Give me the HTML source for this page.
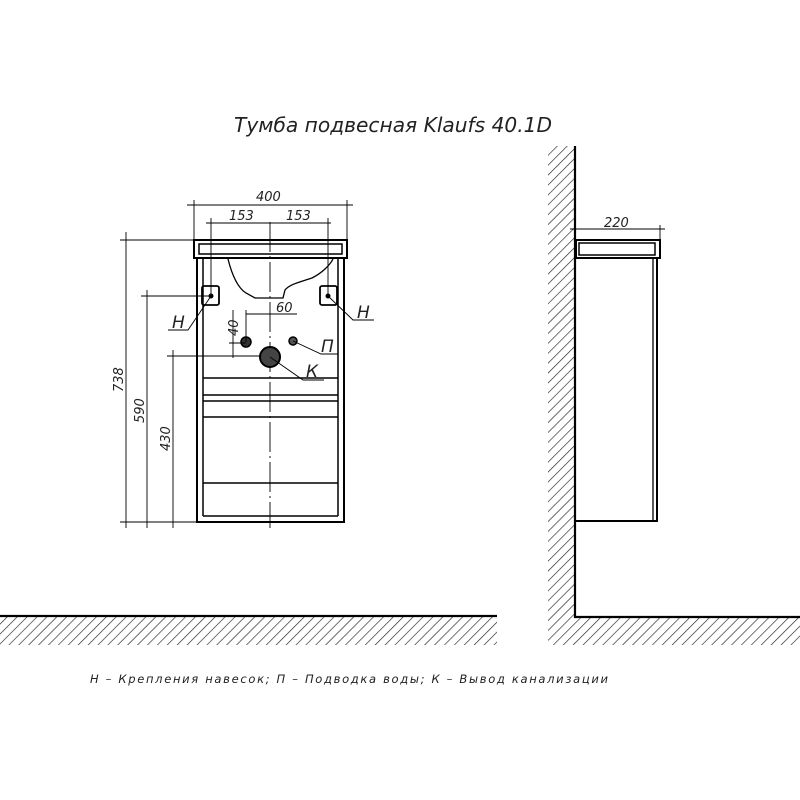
<!DOCTYPE html>
<html><head><meta charset="utf-8"><style>
html,body{margin:0;padding:0;background:#fff}
svg{display:block}
text{font-family:"DejaVu Sans","Liberation Sans",sans-serif;font-style:italic;fill:#222}
</style></head><body>
<svg width="800" height="800" viewBox="0 0 800 800" xmlns="http://www.w3.org/2000/svg">
<defs>
<pattern id="h" width="7" height="10" patternUnits="userSpaceOnUse" patternTransform="rotate(45)">
<line x1="0" y1="0" x2="0" y2="10" stroke="#222" stroke-width="1.3"/>
</pattern>
</defs>
<text x="234" y="132" font-size="20" textLength="318" lengthAdjust="spacingAndGlyphs">Тумба подвесная Klaufs 40.1D</text>

<rect x="0" y="617" width="497" height="28" fill="url(#h)"/>
<line x1="0" y1="616" x2="497" y2="616" stroke="#000" stroke-width="2.2"/>
<rect x="548" y="146" width="27" height="499" fill="url(#h)"/>
<rect x="575" y="617" width="225" height="28" fill="url(#h)"/>
<polyline points="575,146 575,617 800,617" fill="none" stroke="#000" stroke-width="2.2"/>

<g stroke="#000" fill="none">
<rect x="194" y="240" width="153" height="18" stroke-width="2"/>
<rect x="199" y="244" width="143" height="10" stroke-width="1.5"/>
<rect x="197" y="258" width="147" height="264" stroke-width="2"/>
<line x1="203" y1="258" x2="203" y2="516" stroke-width="1.5"/>
<line x1="338" y1="258" x2="338" y2="516" stroke-width="1.5"/>
<line x1="203" y1="516" x2="338" y2="516" stroke-width="1.5"/>
<line x1="203" y1="378" x2="338" y2="378" stroke-width="1.5"/>
<line x1="203" y1="395" x2="338" y2="395" stroke-width="1.5"/>
<line x1="203" y1="401" x2="338" y2="401" stroke-width="1.5"/>
<line x1="203" y1="417" x2="338" y2="417" stroke-width="1.5"/>
<line x1="203" y1="483" x2="338" y2="483" stroke-width="1.5"/>
<path d="M228,259 C232,275 238,288 246,293 L255,298 L283,298 L285,290 C290,284 300,282 312,278 C322,273 330,265 333,259" stroke-width="1.3"/>
<line x1="270" y1="222" x2="270" y2="528" stroke-width="0.9" stroke-dasharray="30,4,2,4"/>
<rect x="202" y="286" width="17" height="19" rx="2" stroke-width="1.8"/>
<rect x="320" y="286" width="17" height="19" rx="2" stroke-width="1.8"/>
</g>
<circle cx="211" cy="296" r="2.5" fill="#000"/>
<circle cx="328" cy="296" r="2.5" fill="#000"/>
<circle cx="246" cy="342" r="5" fill="#333" stroke="#000" stroke-width="1.5"/>
<circle cx="293" cy="341" r="4" fill="#555" stroke="#000" stroke-width="1.5"/>
<circle cx="270" cy="357" r="10" fill="#444" stroke="#000" stroke-width="2"/>

<g stroke="#000" stroke-width="0.9" fill="none">
<line x1="187" y1="205" x2="353" y2="205"/>
<line x1="194" y1="200" x2="194" y2="240"/>
<line x1="347" y1="200" x2="347" y2="240"/>
<line x1="206" y1="223" x2="331" y2="223"/>
<line x1="211" y1="218" x2="211" y2="296"/>
<line x1="328" y1="218" x2="328" y2="296"/>
<line x1="120" y1="240" x2="194" y2="240"/>
<line x1="126" y1="232" x2="126" y2="528"/>
<line x1="141" y1="296" x2="211" y2="296"/>
<line x1="147" y1="290" x2="147" y2="528"/>
<line x1="167" y1="356" x2="260" y2="356"/>
<line x1="173" y1="350" x2="173" y2="528"/>
<line x1="120" y1="522" x2="197" y2="522"/>
<line x1="246" y1="314" x2="297" y2="314"/>
<line x1="246" y1="310" x2="246" y2="342"/>
<line x1="233" y1="310" x2="233" y2="358"/>
<line x1="229" y1="343" x2="246" y2="343"/>
<polyline points="211,296 188,330 168,330"/>
<polyline points="328,296 353,320 374,320"/>
<polyline points="293,341 321,354 338,354"/>
<polyline points="270,357 303,380 324,380"/>
<line x1="570" y1="229" x2="665" y2="229"/>
<line x1="660" y1="225" x2="660" y2="240"/>
</g>

<g stroke="#000" fill="none">
<rect x="576" y="240" width="84" height="18" stroke-width="2"/>
<rect x="579" y="243" width="76" height="12" stroke-width="1.5"/>
<polyline points="575,258 657,258 657,521 575,521" stroke-width="2"/>
<line x1="653" y1="258" x2="653" y2="521" stroke-width="1.3"/>
</g>

<g font-size="13">
<text x="256" y="201">400</text>
<text x="229" y="220">153</text>
<text x="286" y="220">153</text>
<text x="276" y="312">60</text>
<text x="604" y="227">220</text>
<text x="172" y="328" font-size="17">Н</text>
<text x="357" y="318" font-size="17">Н</text>
<text x="321" y="352" font-size="17">П</text>
<text x="306" y="377" font-size="17">К</text>
<text transform="translate(238,336) rotate(-90)">40</text>
<text transform="translate(123,392) rotate(-90)">738</text>
<text transform="translate(144,423) rotate(-90)">590</text>
<text transform="translate(170,451) rotate(-90)">430</text>
</g>
<text x="90" y="683" font-size="11.5" textLength="518" lengthAdjust="spacing">Н – Крепления навесок; П – Подводка воды; К – Вывод канализации</text>
</svg>
</body></html>
